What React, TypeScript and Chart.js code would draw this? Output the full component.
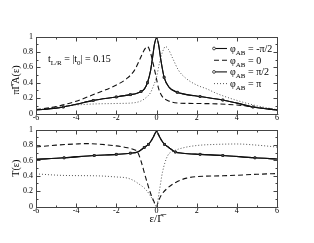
import React, { useEffect, useRef } from "react";
import { Chart, registerables } from "chart.js";
Chart.register(...registerables);

const SERIF = "'Liberation Serif', 'Times New Roman', serif";

const EPS_MIN = -6;
const EPS_MAX = 6;
const X_STEP = 2;
const Y_MIN = 0;
const Y_MAX = 1;
const Y_STEP = 0.2;

// ---------- top panel: πΓ A(ε) ----------
const aHalfEps = [-6, -5, -4.64, -4, -3.15, -2, -1.3, -1, -0.77, -0.6, -0.45, -0.3, -0.2, -0.1, 0, 0.1, 0.22, 0.38, 0.63, 1.04, 1.33, 2.17, 3.3, 4, 4.8, 6];
const aMinusHalfPi = [0.045, 0.07, 0.085, 0.12, 0.17, 0.215, 0.245, 0.26, 0.285, 0.32, 0.4, 0.55, 0.72, 0.9, 0.98, 0.9, 0.69, 0.47, 0.34, 0.275, 0.255, 0.22, 0.175, 0.135, 0.085, 0.045];
const aPlusHalfPi = [0.045, 0.07, 0.085, 0.12, 0.17, 0.215, 0.245, 0.26, 0.285, 0.32, 0.4, 0.55, 0.72, 0.9, 0.98, 0.9, 0.69, 0.47, 0.34, 0.275, 0.255, 0.22, 0.175, 0.135, 0.085, 0.045];
const aHalfMarks = [-4.64, -3.15, -2, -1.3, -0.77, -0.45, 0.38, 1.04, 2.17, 3.3, 4.8];

const aZeroEps = [-6, -5, -4, -3, -2, -1.5, -1.1, -0.8, -0.6, -0.45, -0.3, -0.15, 0, 0.1, 0.2, 0.35, 0.55, 0.8, 1.1, 2, 3, 4, 5, 6];
const aZero = [0.05, 0.09, 0.16, 0.26, 0.37, 0.45, 0.56, 0.72, 0.83, 0.87, 0.79, 0.63, 0.45, 0.33, 0.26, 0.2, 0.17, 0.145, 0.135, 0.13, 0.125, 0.11, 0.08, 0.045];

const aPiEps = [-6, -5, -4, -3, -2, -1.1, -0.8, -0.6, -0.3, -0.15, 0, 0.15, 0.3, 0.45, 0.6, 0.8, 1.1, 1.5, 2, 2.5, 3, 4, 5, 6];
const aPi = [0.045, 0.08, 0.11, 0.125, 0.13, 0.14, 0.16, 0.19, 0.27, 0.36, 0.47, 0.66, 0.8, 0.87, 0.83, 0.72, 0.56, 0.45, 0.37, 0.32, 0.26, 0.17, 0.1, 0.05];

// ---------- bottom panel: T(ε) ----------
const tHalfEps = [-6, -4.6, -3.1, -2, -1.3, -0.94, -0.61, -0.4, -0.28, -0.15, 0, 0.15, 0.28, 0.4, 0.61, 0.94, 1.3, 2.17, 3.3, 4.9, 6];
const tMinusHalfPi = [0.615, 0.635, 0.665, 0.68, 0.695, 0.71, 0.77, 0.81, 0.85, 0.91, 0.98, 0.91, 0.85, 0.81, 0.77, 0.71, 0.695, 0.68, 0.665, 0.635, 0.62];
const tPlusHalfPi = [0.615, 0.635, 0.665, 0.68, 0.695, 0.71, 0.77, 0.81, 0.85, 0.91, 0.98, 0.91, 0.85, 0.81, 0.77, 0.71, 0.695, 0.68, 0.665, 0.635, 0.62];
const tHalfMarks = [-4.6, -3.1, -2, -1.3, -0.61, -0.4, 0.4, 0.94, 2.17, 3.3, 4.9];

const tZeroEps = [-6, -5, -4, -3.5, -3, -2, -1.44, -1.1, -0.94, -0.78, -0.53, -0.28, -0.1, 0, 0.1, 0.22, 0.55, 1.04, 1.5, 2, 3.3, 5, 6];
const tZero = [0.775, 0.8, 0.815, 0.82, 0.815, 0.79, 0.765, 0.74, 0.71, 0.6, 0.37, 0.16, 0.05, 0.0, 0.07, 0.14, 0.24, 0.325, 0.37, 0.39, 0.4, 0.42, 0.43];

const tPiEps = [-6, -4.6, -3, -2, -1.44, -1.15, -0.94, -0.53, -0.2, 0, 0.14, 0.3, 0.55, 0.88, 1.33, 2, 3, 4, 5, 6];
const tPi = [0.425, 0.405, 0.4, 0.385, 0.37, 0.34, 0.305, 0.22, 0.095, 0.0, 0.2, 0.45, 0.66, 0.725, 0.765, 0.795, 0.81, 0.815, 0.8, 0.775];

const legendValues = ["-π/2", "0", "π/2", "π"];
const annotationParts = [
  { t: "t" }, { t: "L/R", sub: true }, { t: " = |t" }, { t: "0", sub: true }, { t: "| = 0.15" },
];

const STYLES = [
  { color: "#111", width: 1.1, dash: [] as number[], marker: true },
  { color: "#111", width: 1.1, dash: [5, 3], marker: false },
  { color: "#111", width: 1.1, dash: [] as number[], marker: true },
  { color: "#555", width: 1, dash: [1, 2], marker: false },
];

const pts = (xs: number[], ys: number[]) => xs.map((x, i) => ({ x, y: ys[i] }));

function makeDatasets(series: { xs: number[]; ys: number[]; marks: number[] }[]) {
  return series.map((s, i) => {
    const st = STYLES[i];
    return {
      data: pts(s.xs, s.ys),
      borderColor: st.color,
      borderWidth: st.width,
      borderDash: st.dash,
      fill: false,
      cubicInterpolationMode: "monotone" as const,
      pointStyle: "rect",
      pointRadius: (ctx: any) => (s.marks.includes(ctx.raw?.x) ? 1.3 : 0),
      pointBackgroundColor: "#666",
      pointBorderColor: "#222",
      pointBorderWidth: 0.8,
      pointHoverRadius: 0,
    };
  });
}

function drawRich(ctx: CanvasRenderingContext2D, x: number, baseline: number, parts: { t: string; sub?: boolean }[], size: number) {
  let cx = x;
  for (const p of parts) {
    const fs = p.sub ? size * 0.7 : size;
    ctx.font = `${fs}px ${SERIF}`;
    ctx.fillText(p.t, cx, p.sub ? baseline + size * 0.3 : baseline);
    cx += ctx.measureText(p.t).width;
  }
}

const framePlugin = {
  id: "frame",
  afterDatasetsDraw(chart: any) {
    const { ctx, chartArea: a, scales } = chart;
    const x = scales.x;
    const y = scales.y;
    ctx.save();
    ctx.strokeStyle = "#444";
    ctx.lineWidth = 1;
    ctx.setLineDash([]);
    const L = Math.round(a.left) + 0.5;
    const R = Math.round(a.right) + 0.5;
    const T = Math.round(a.top) + 0.5;
    const B = Math.round(a.bottom) + 0.5;
    ctx.strokeRect(L, T, R - L, B - T);
    ctx.beginPath();
    for (let v = EPS_MIN; v <= EPS_MAX; v += 1) {
      const px = Math.round(x.getPixelForValue(v)) + 0.5;
      const len = v % 2 === 0 ? 4 : 2;
      ctx.moveTo(px, B); ctx.lineTo(px, B - len);
      ctx.moveTo(px, T); ctx.lineTo(px, T + len);
    }
    for (let i = 0; i <= 10; i++) {
      const py = Math.round(y.getPixelForValue(i / 10)) + 0.5;
      const len = i % 2 === 0 ? 4 : 2;
      ctx.moveTo(L, py); ctx.lineTo(L + len, py);
      ctx.moveTo(R, py); ctx.lineTo(R - len, py);
    }
    ctx.stroke();
    ctx.restore();
  },
};

const legendPlugin = {
  id: "phiLegend",
  afterDraw(chart: any) {
    if (chart.canvas.dataset.panel !== "top") return;
    const { ctx } = chart;
    ctx.save();
    ctx.fillStyle = "#000";
    ctx.textBaseline = "alphabetic";
    drawRich(ctx, 48, 61.5, annotationParts, 10);
    legendValues.forEach((val, i) => {
      const st = STYLES[i];
      const yy = 48.5 + i * 11.7;
      ctx.strokeStyle = st.color;
      ctx.lineWidth = st.width;
      ctx.setLineDash(st.dash);
      ctx.beginPath();
      ctx.moveTo(214, yy);
      ctx.lineTo(227, yy);
      ctx.stroke();
      ctx.setLineDash([]);
      if (st.marker) {
        ctx.lineWidth = 0.8;
        ctx.strokeStyle = "#222";
        ctx.fillStyle = "#fff";
        ctx.beginPath();
        ctx.arc(214, yy, 1.4, 0, Math.PI * 2);
        ctx.fill();
        ctx.stroke();
      }
      ctx.fillStyle = "#000";
      drawRich(ctx, 230, yy + 3.5, [{ t: "φ" }, { t: "AB", sub: true }, { t: " = " + val }], 10);
    });
    ctx.restore();
  },
};

function makeConfig(datasets: any[], yTitle: string, isTop: boolean, padTop: number, xHeight: number, xTitle: string): any {
  return {
    type: "line",
    data: { datasets },
    plugins: [framePlugin, legendPlugin],
    options: {
      animation: false,
      responsive: false,
      maintainAspectRatio: false,
      events: [],
      layout: { padding: { left: 0, right: 37, top: padTop, bottom: 0 } },
      plugins: { legend: { display: false }, tooltip: { enabled: false } },
      scales: {
        x: {
          type: "linear",
          min: EPS_MIN,
          max: EPS_MAX,
          grid: { display: false, drawTicks: false },
          border: { display: false },
          ticks: { stepSize: X_STEP, color: "#000", padding: 0, maxRotation: 0, font: { family: SERIF, size: 8 } },
          title: {
            display: !isTop,
            text: xTitle,
            color: "#000",
            font: { family: SERIF, size: 11 },
            padding: { top: 0, bottom: 17 },
          },
          afterFit: (s: any) => { s.height = xHeight; },
        },
        y: {
          min: Y_MIN,
          max: Y_MAX,
          grid: { display: false, drawTicks: false },
          border: { display: false },
          ticks: {
            stepSize: Y_STEP,
            color: "#000",
            padding: 3,
            font: { family: SERIF, size: 8 },
            callback: (v: any) => String(Number(Number(v).toFixed(1))),
          },
          title: {
            display: true,
            text: yTitle,
            color: "#000",
            font: { family: SERIF, size: 10 },
            padding: { top: 10, bottom: 0 },
          },
          afterFit: (s: any) => { s.width = 36; },
        },
      },
    },
  };
}

export default function App() {
  const topRef = useRef<HTMLCanvasElement>(null);
  const botRef = useRef<HTMLCanvasElement>(null);

  useEffect(() => {
    const topDs = makeDatasets([
      { xs: aHalfEps, ys: aMinusHalfPi, marks: aHalfMarks },
      { xs: aZeroEps, ys: aZero, marks: [] },
      { xs: aHalfEps, ys: aPlusHalfPi, marks: aHalfMarks },
      { xs: aPiEps, ys: aPi, marks: [] },
    ]);
    const botDs = makeDatasets([
      { xs: tHalfEps, ys: tMinusHalfPi, marks: tHalfMarks },
      { xs: tZeroEps, ys: tZero, marks: [] },
      { xs: tHalfEps, ys: tPlusHalfPi, marks: tHalfMarks },
      { xs: tPiEps, ys: tPi, marks: [] },
    ]);
    const c1 = new Chart(topRef.current!, makeConfig(topDs, "πΓ\u0305A(ε)\u2003", true, 36.5, 8.5, ""));
    const c2 = new Chart(botRef.current!, makeConfig(botDs, "T(ε)", false, 5.3, 36.5, "ε/Γ\u0305"));
    return () => {
      c1.destroy();
      c2.destroy();
    };
  }, []);

  return (
    <div style={{ position: "absolute", left: 0, top: 0, width: 314, height: 243, background: "#fff", overflow: "hidden" }}>
      <canvas ref={topRef} data-panel="top" width={314} height={122} style={{ position: "absolute", left: 0, top: 0, width: 314, height: 122 }} />
      <canvas ref={botRef} data-panel="bottom" width={314} height={121} style={{ position: "absolute", left: 0, top: 122, width: 314, height: 121 }} />
    </div>
  );
}
